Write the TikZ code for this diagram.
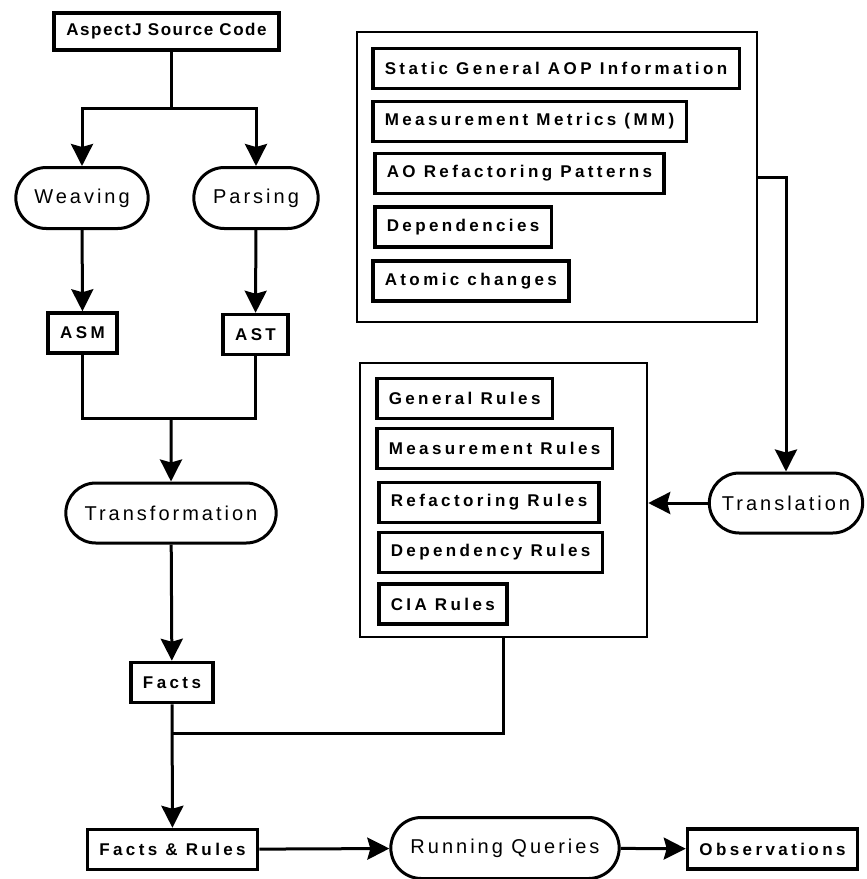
\documentclass[tikz,border=0pt]{standalone}
\usepackage{fontspec}
\setmainfont{Liberation Sans}
\newfontfamily\spaced{Liberation Sans}[LetterSpace=15]
\newfontfamily\wide{Liberation Sans}[LetterSpace=20]
\newfontfamily\narrow{Liberation Sans}[LetterSpace=9]
\usetikzlibrary{shapes.misc,arrows.meta,positioning}

\begin{document}
\begin{tikzpicture}[x=1pt, y=-1pt, >={Stealth[length=22pt,width=22pt,inset=3pt]},
    box/.style={rectangle, draw, line width=3.5pt, minimum height=40pt, inner xsep=12pt, font=\wide\bfseries\fontsize{17}{20}\selectfont},
    term/.style={rounded rectangle, draw, line width=3pt, minimum height=61pt, font=\spaced\fontsize{20}{24}\selectfont},
    panel/.style={rectangle, draw, line width=2.5pt},
    flow/.style={line width=3pt}]
    \useasboundingbox (0,0) rectangle (867,879);
    % left column
    \node[box, minimum height=37pt, minimum width=225pt, font=\narrow\bfseries\fontsize{17}{20}\selectfont] (src) at (166.5,31.5) {AspectJ Source Code};
    \node[term, minimum width=139pt] (weave) at (82,198) {Weaving};
    \node[term, minimum width=131pt] (parse) at (256,198) {Parsing};
    \node[box] (asm) at (82.5,333) {ASM};
    \node[box] (ast) at (255.5,334.5) {AST};
    \node[term, minimum width=217pt, minimum height=60pt] (trans) at (171,513) {Transformation};
    \node[box] (facts) at (172,682.5) {Facts};
    \node[box] (fr) at (172.5,849.5) {Facts \& Rules};
    \node[term, minimum width=235pt] (rq) at (505,848) {Running Queries};
    \node[box] (obs) at (772.5,849) {Observations};
    % information panel
    \node[panel, minimum width=400pt, minimum height=290pt] (info) at (557,177) {};
    \node[box, anchor=west] (aop) at (371,68.5) {Static General AOP Information};
    \node[box, anchor=west] (mm) at (371,121.5) {Measurement Metrics (MM)};
    \node[box, anchor=west] (pat) at (373,173.5) {AO Refactoring Patterns};
    \node[box, anchor=west] (dep) at (373,227) {Dependencies};
    \node[box, anchor=west] (atom) at (371,281) {Atomic changes};
    \node[term, minimum width=160pt, minimum height=60pt] (transl) at (786,503) {Translation};
    % rules panel
    \node[panel, minimum width=287pt, minimum height=274pt] (rules) at (503.5,500) {};
    \node[box, anchor=west] (gr) at (375,398.5) {General Rules};
    \node[box, anchor=west] (mr) at (375,448.5) {Measurement Rules};
    \node[box, anchor=west] (rr) at (377,502.5) {Refactoring Rules};
    \node[box, anchor=west] (dr) at (377,552.5) {Dependency Rules};
    \node[box, anchor=west] (cr) at (377,604) {CIA Rules};
    % connectors
    \coordinate (split) at (171,108);
    \coordinate (merge) at (trans.north |- 0,418);
    \coordinate (meet) at (facts.south |- 0,733);
    \draw[flow] (src.south -| split) -- (split);
    \draw[flow,->] (split) -| (weave.north);
    \draw[flow,->] (split) -| (parse.north);
    \draw[flow,->] (weave) -- (asm);
    \draw[flow,->] (parse) -- (ast);
    \draw[flow] (asm.south) |- (merge) -| (ast.south);
    \draw[flow,->] (merge) -- (trans);
    \draw[flow,->] (trans) -- (facts);
    \draw[flow] (rules.south) |- (meet);
    \draw[flow,->] (facts) -- (fr);
    \draw[flow,->] (info.east) -| (transl.north);
    \draw[flow,->] (transl) -- (rules.east |- transl.west);
    \draw[flow,->] (fr) -- (rq);
    \draw[flow,->] (rq) -- (obs);
\end{tikzpicture}
\end{document}
